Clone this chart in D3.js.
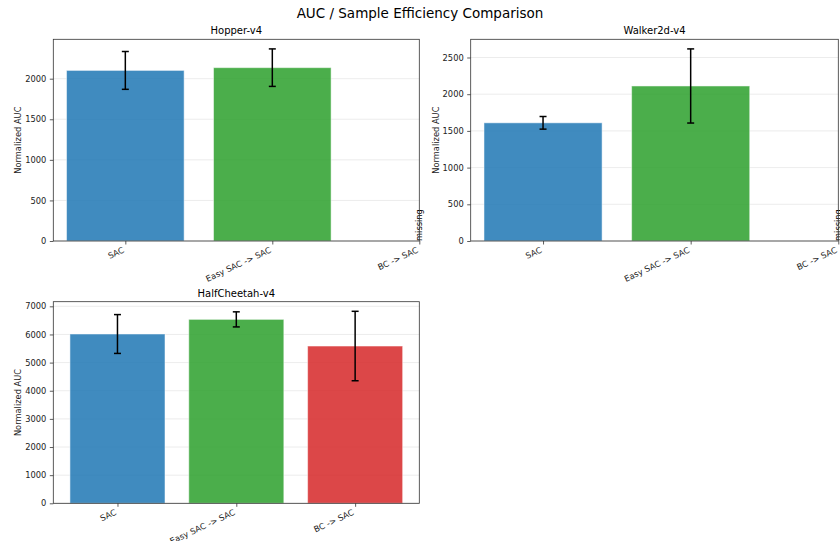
<!DOCTYPE html>
<html>
<head>
<meta charset="utf-8">
<script src="https://cdn.jsdelivr.net/npm/d3@7"></script>
<style>
  html, body { margin: 0; padding: 0; background: #fff; }
  svg { display: block; font-family: "DejaVu Sans", sans-serif; }
</style>
</head>
<body>
<svg id="chart" width="840" height="541"></svg>
<script>
// Methods compared in every environment
const methods = ["SAC", "Easy SAC -> SAC", "BC -> SAC"];
const methodColors = ["#1f77b4", "#2ca02c", "#d62728"];

// Environments (subplot titles)
const envNames = ["Hopper-v4", "Walker2d-v4", "HalfCheetah-v4"];

// Mean normalized AUC and its standard deviation (null = no runs)
const hopperMean = [2102, 2136, null];
const hopperStd = [233, 231, null];
const walkerMean = [1610, 2112, null];
const walkerStd = [86, 505, null];
const cheetahMean = [6016, 6536, 5589];
const cheetahStd = [690, 268, 1234];

// Y tick spacing per environment
const yTickSteps = [500, 500, 1000];

const panels = [
  { name: envNames[0], mean: hopperMean, std: hopperStd, step: yTickSteps[0],
    box: { left: 53.3, right: 419.3, top: 39.3, bottom: 241 } },
  { name: envNames[1], mean: walkerMean, std: walkerStd, step: yTickSteps[1],
    box: { left: 470.7, right: 838.3, top: 39.3, bottom: 241 } },
  { name: envNames[2], mean: cheetahMean, std: cheetahStd, step: yTickSteps[2],
    box: { left: 53.3, right: 419.3, top: 301.7, bottom: 503.3 } }
];

const svg = d3.select("#chart");
const tickFont = 8.3;

svg.append("text")
  .attr("x", 420).attr("y", 18)
  .attr("text-anchor", "middle")
  .attr("font-size", 13.5)
  .attr("fill", "#000")
  .text("AUC / Sample Efficiency Comparison");

const barWidth = 0.8;

panels.forEach(p => {
  const b = p.box;
  const idx = d3.range(methods.length);
  const present = idx.filter(i => p.mean[i] != null);

  // x limits: bar extents plus 5% margin, widened to keep every tick visible
  let lo = d3.min(present, i => i - barWidth / 2);
  let hi = d3.max(present, i => i + barWidth / 2);
  const pad = (hi - lo) * 0.05;
  lo = Math.min(lo - pad, 0);
  hi = Math.max(hi + pad, methods.length - 1);
  const x = d3.scaleLinear().domain([lo, hi]).range([b.left, b.right]);

  const yMax = d3.max(present, i => p.mean[i] + p.std[i]) * 1.05;
  const y = d3.scaleLinear().domain([0, yMax]).range([b.bottom, b.top]);
  const yTicks = d3.range(0, yMax, p.step);

  const g = svg.append("g");

  // horizontal grid
  g.append("g").selectAll("line").data(yTicks).join("line")
    .attr("x1", b.left).attr("x2", b.right)
    .attr("y1", d => y(d)).attr("y2", d => y(d))
    .attr("stroke", "#b0b0b0").attr("stroke-opacity", 0.3).attr("stroke-width", 0.8);

  // bars
  g.append("g").selectAll("rect").data(present).join("rect")
    .attr("x", i => x(i - barWidth / 2))
    .attr("width", i => x(i + barWidth / 2) - x(i - barWidth / 2))
    .attr("y", i => y(p.mean[i]))
    .attr("height", i => y(0) - y(p.mean[i]))
    .attr("fill", i => methodColors[i])
    .attr("fill-opacity", 0.85)
    .attr("stroke", "#ffffff").attr("stroke-opacity", 0.5).attr("stroke-width", 1);

  // error bars
  const eb = g.append("g").attr("stroke", "#000").attr("stroke-width", 1.5);
  present.forEach(i => {
    const cx = x(i);
    const y1 = y(p.mean[i] - p.std[i]);
    const y2 = y(p.mean[i] + p.std[i]);
    eb.append("line").attr("x1", cx).attr("x2", cx).attr("y1", y1).attr("y2", y2);
    [y1, y2].forEach(yy => eb.append("line")
      .attr("x1", cx - 3.5).attr("x2", cx + 3.5).attr("y1", yy).attr("y2", yy));
  });

  // "missing" label where a method has no runs
  idx.filter(i => p.mean[i] == null).forEach(i => {
    g.append("text")
      .attr("transform", `translate(${x(i)},${y(0)}) rotate(-90)`)
      .attr("text-anchor", "start")
      .attr("dominant-baseline", "central")
      .attr("font-size", tickFont)
      .attr("fill", "#000")
      .text("missing");
  });

  // y axis
  const yAxis = d3.axisLeft(y).tickValues(yTicks).tickSize(3.5).tickPadding(3.5)
    .tickFormat(d3.format("d"));
  const ya = g.append("g").attr("transform", `translate(${b.left},0)`).call(yAxis);
  ya.select(".domain").remove();
  ya.selectAll("line").attr("stroke", "#333").attr("stroke-width", 0.8);
  ya.selectAll("text").attr("font-size", tickFont).attr("fill", "#222")
    .attr("font-family", "DejaVu Sans, sans-serif");

  // x axis with rotated labels
  const xAxis = d3.axisBottom(x).tickValues(idx).tickSize(3.5).tickFormat(i => methods[i]);
  const xa = g.append("g").attr("transform", `translate(0,${b.bottom})`).call(xAxis);
  xa.select(".domain").remove();
  xa.selectAll("line").attr("stroke", "#333").attr("stroke-width", 0.8);
  xa.selectAll("text")
    .attr("font-size", tickFont).attr("fill", "#222")
    .attr("font-family", "DejaVu Sans, sans-serif")
    .attr("text-anchor", "end")
    .attr("y", 0).attr("dy", 0)
    .attr("transform", "translate(-1,11) rotate(-25)");

  // frame
  g.append("rect")
    .attr("x", b.left).attr("y", b.top)
    .attr("width", b.right - b.left).attr("height", b.bottom - b.top)
    .attr("fill", "none").attr("stroke", "#333").attr("stroke-width", 0.8);

  // titles
  g.append("text")
    .attr("x", (b.left + b.right) / 2).attr("y", b.top - 5)
    .attr("text-anchor", "middle").attr("font-size", 10).attr("fill", "#000")
    .text(p.name);

  g.append("text")
    .attr("transform", `translate(${b.left - 32},${(b.top + b.bottom) / 2}) rotate(-90)`)
    .attr("text-anchor", "middle").attr("font-size", tickFont).attr("fill", "#222")
    .text("Normalized AUC");
});
</script>
</body>
</html>
